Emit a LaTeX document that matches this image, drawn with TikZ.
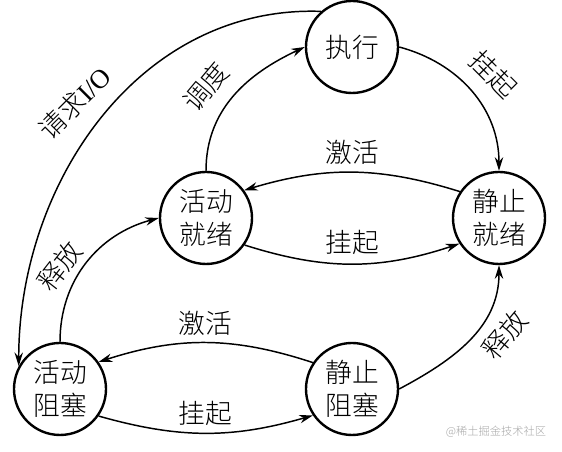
\documentclass[tikz,border=0pt]{standalone}
\usepackage{fontspec}
\setmainfont{Liberation Serif}
\newfontfamily\cjk{Noto Sans CJK SC Light}
\usetikzlibrary{arrows.meta}
\tikzset{
  st/.style  ={circle, draw=black, line width=1.7pt, minimum size=2.3cm, inner sep=0pt, align=center, font=\cjk\fontsize{19}{23.5}\selectfont},
  edge/.style={-{Stealth[length=3.4mm, width=2.1mm]}, line width=1.05pt},
  lab/.style ={font=\cjk\fontsize{19}{23}\selectfont, inner sep=1pt},
  wm/.style  ={font=\cjk\fontsize{8}{9}\selectfont, text=black!35},
}
\begin{document}
\begin{tikzpicture}
        \useasboundingbox (0,0) rectangle (14.05,11.3);
        \node[st] (run)    at (8.8,10.125)  {执行};
        \node[st] (sready) at (12.475,5.85) {静止\\就绪};
        \node[st] (aready) at (5.15,5.85)   {活动\\就绪};
        \node[st] (ablock) at (1.5,1.575)   {活动\\阻塞};
        \node[st] (sblock) at (8.8,1.575)   {静止\\阻塞};
        \draw[edge] (run.east) to[out=-15, in=90] (sready.north);
        \draw[edge] (aready.north) to[out=90, in=205] (run.west);
        \draw[edge] (sready.146) to[bend right=17] (aready.36);
        \draw[edge] (aready.-35) to[bend right=18] (sready.-147);
        \draw[edge] (run.131) to[out=178, in=90] (ablock.151);
        \draw[edge] (ablock.north) to[out=90, in=195] (aready.west);
        \draw[edge] (sblock.146) to[bend right=18] (ablock.35);
        \draw[edge] (ablock.-35) to[bend right=16] (sblock.-146);
        \draw[edge] (sblock.east) to[out=28, in=-90] (sready.south);
        \node[lab, rotate=-45] (l1) at (12.35,9.45)   {挂起};
        \node[lab, rotate=50]  (l2) at (5.15,9.125)   {调度};
        \node[lab, rotate=45]  (l3) at (1.875,8.725)  {请求{\rmfamily I/O}};
        \node[lab]             (l4) at (8.8,7.5)      {激活};
        \node[lab]             (l5) at (8.8,5.25)     {挂起};
        \node[lab, rotate=52]  (l6) at (1.5,4.65)     {释放};
        \node[lab]             (l7) at (5.125,3.225)  {激活};
        \node[lab]             (l8) at (5.125,0.975)  {挂起};
        \node[lab, rotate=50]  (l9) at (12.625,2.925) {释放};
        \node[wm]              (wm) at (12.4,0.5)     {@稀土掘金技术社区};
      \end{tikzpicture}
\end{document}
